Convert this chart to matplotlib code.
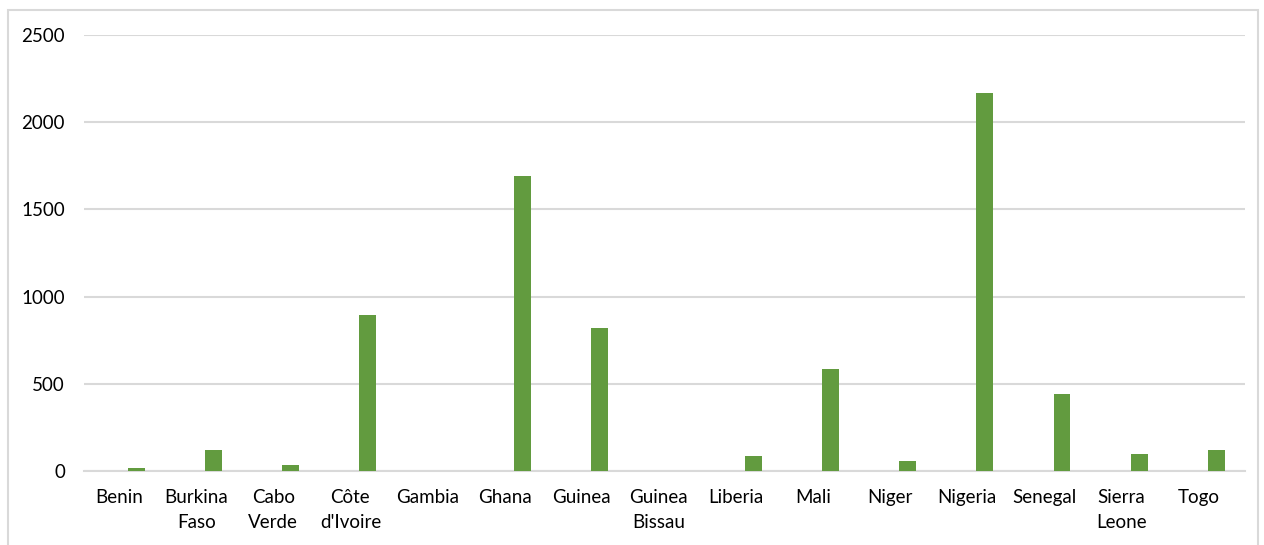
import matplotlib.pyplot as plt
import numpy as np
from matplotlib.patches import Rectangle

countries = ["Benin", "Burkina\nFaso", "Cabo\nVerde", "Côte\nd'Ivoire", "Gambia",
             "Ghana", "Guinea", "Guinea\nBissau", "Liberia", "Mali", "Niger",
             "Nigeria", "Senegal", "Sierra\nLeone", "Togo"]
values = [20, 123, 34, 896, 0, 1690, 820, 0, 85, 585, 58, 2165, 440, 95, 120]
yticks = [0, 500, 1000, 1500, 2000, 2500]

plt.rcParams['font.family'] = ['Lato', 'DejaVu Sans']

fig = plt.figure(figsize=(12.64, 5.45), dpi=100)
ax = fig.add_axes([84 / 1264, 1 - 471 / 545, (1245 - 84) / 1264, (471 - 35) / 545])

x = np.arange(len(countries))
# bars sit to the right of each category slot
ax.bar(x + 0.227, values, width=0.22, color="#629b3f", zorder=3)

ax.set_xlim(-0.454, 14.60)
ax.set_ylim(0, 2500)
ax.set_yticks(yticks)
ax.set_yticklabels([str(v) for v in yticks], fontsize=13.5)
ax.set_xticks(x)
ax.set_xticklabels(countries, fontsize=13.5, linespacing=1.55, va="top")
ax.tick_params(axis="both", length=0, colors="black")
ax.tick_params(axis="y", pad=13.7)
ax.tick_params(axis="x", pad=13)

ax.grid(axis="y", color="#d9d9d9", linewidth=1.5, zorder=0)
for s in ["top", "right", "left"]:
    ax.spines[s].set_visible(False)
ax.spines["bottom"].set_color("#d9d9d9")
ax.spines["bottom"].set_linewidth(1.5)

# outer chart frame
fig.patches.append(Rectangle((8 / 1264, -0.01), 1250 / 1264, 1 - 10 / 545 + 0.01,
                             transform=fig.transFigure, fill=False,
                             edgecolor="#d9d9d9", linewidth=1.5))

fig.savefig("out.png", dpi=100)
